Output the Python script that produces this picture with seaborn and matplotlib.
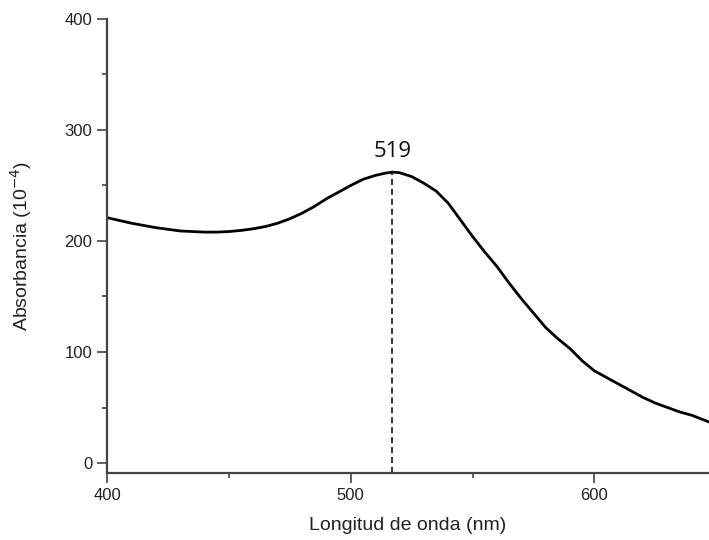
import matplotlib
matplotlib.use("Agg")
import matplotlib.pyplot as plt
import seaborn as sns
import pandas as pd
from matplotlib.ticker import MultipleLocator

wavelength = [400, 405, 410, 415, 420, 425, 430, 435, 440, 445, 450, 455, 460, 465,
              470, 475, 480, 485, 490, 495, 500, 505, 510, 514, 517, 520, 525, 530,
              535, 540, 545, 550, 555, 560, 565, 570, 575, 580, 585, 590, 595, 600,
              605, 610, 615, 620, 625, 630, 635, 640, 647]
absorbance = [221, 218.5, 216, 214, 212, 210.5, 209, 208.5, 208, 208, 208.5, 209.5, 211, 213,
              216, 220, 225, 231, 238, 244, 250, 255.5, 259, 261, 262, 261.5, 258, 252,
              245, 234, 219, 204, 190, 177, 162, 148, 135, 122, 112, 103, 92, 83,
              77, 71, 65, 59, 54, 50, 46, 43, 37]
peak_x = 517
peak_y = 262
peak_label = "519"
x_ticks = [400, 500, 600]
y_ticks = [0, 100, 200, 300, 400]

sns.set_style("ticks")
plt.rcParams["font.family"] = ["Liberation Sans", "DejaVu Sans"]

df = pd.DataFrame({"wl": wavelength, "abs": absorbance})

fig = plt.figure(figsize=(7.09, 5.40), dpi=100)
ax = fig.add_axes([0.151, 0.124, 0.849, 0.841])

sns.lineplot(data=df, x="wl", y="abs", ax=ax, color="black", linewidth=2.0)
ax.plot([peak_x, peak_x], [-9, peak_y], color="black", linestyle=(0, (4, 2.5)), linewidth=1.1)
ax.text(peak_x, peak_y + 9, peak_label, ha="center", va="bottom",
        fontsize=16, family=["Open Sans", "DejaVu Sans"], color="#111111")

ax.set_xlim(400, 647)
ax.set_ylim(-9, 400)
ax.set_xticks(x_ticks)
ax.set_yticks(y_ticks)
ax.xaxis.set_minor_locator(MultipleLocator(50))
ax.yaxis.set_minor_locator(MultipleLocator(50))

for s in ["top", "right"]:
    ax.spines[s].set_visible(False)
for s in ["left", "bottom"]:
    ax.spines[s].set_linewidth(1.6)
    ax.spines[s].set_color("#444444")

ax.tick_params(axis="both", which="major", length=7, width=1.2, color="#444444",
               labelsize=12, labelcolor="#222222", direction="out")
ax.tick_params(axis="both", which="minor", length=3.5, width=1.2, color="#444444", direction="out")

ax.set_xlabel("Longitud de onda (nm)", fontsize=14, color="#222222", labelpad=10)
ax.set_ylabel(r"Absorbancia (10$^{-4}$)", fontsize=14, color="#222222", labelpad=22)

fig.savefig("out.png", dpi=100)
